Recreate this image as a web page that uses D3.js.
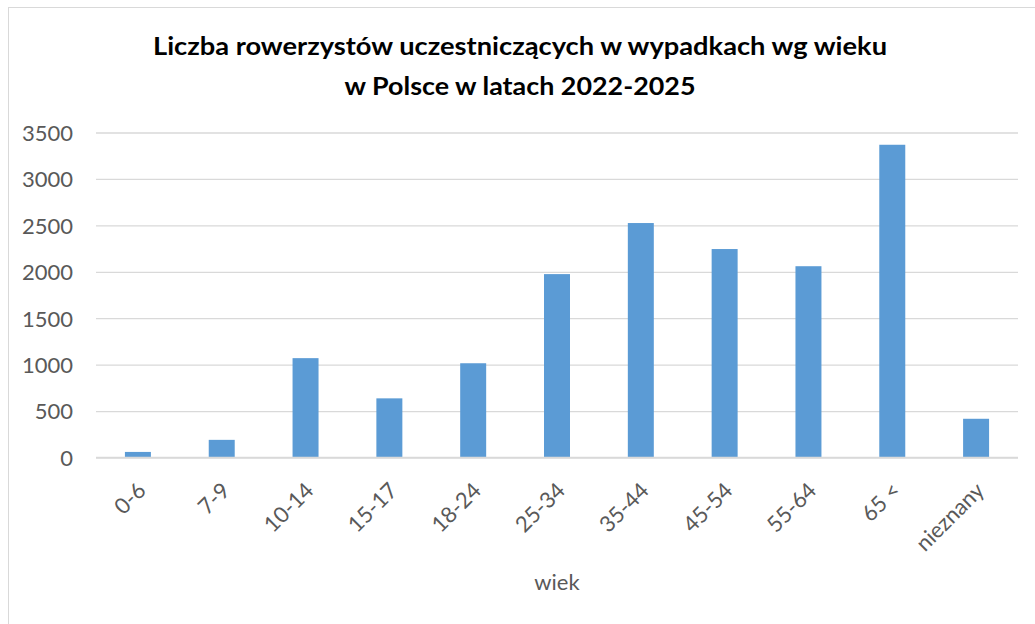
<!DOCTYPE html>
<html>
<head>
<meta charset="utf-8">
<script src="https://cdn.jsdelivr.net/npm/d3@7"></script>
<style>
  html, body { margin: 0; padding: 0; background: #fff; }
  svg { display: block; }
  text { font-family: Lato, "Open Sans", sans-serif; }
</style>
</head>
<body>
<svg id="chart" width="1035" height="624"></svg>
<script>
const titleLines = ["Liczba rowerzystów uczestniczących w wypadkach wg wieku", "w Polsce w latach 2022-2025"];
const categories = ["0-6", "7-9", "10-14", "15-17", "18-24", "25-34", "35-44", "45-54", "55-64", "65 <", "nieznany"];
const values = [60, 190, 1070, 637, 1015, 1975, 2525, 2245, 2060, 3368, 417];
const yTicks = [0, 500, 1000, 1500, 2000, 2500, 3000, 3500];
const xAxisTitle = "wiek";

const svg = d3.select("#chart");
const W = 1035, H = 624;
const plot = { left: 96, right: 1018, top: 132.5, bottom: 457.5 };

svg.append("rect").attr("width", W).attr("height", H).attr("fill", "#fff");
svg.append("rect")
  .attr("x", 8.5).attr("y", 7.5).attr("width", 1040).attr("height", 640)
  .attr("fill", "#fff").attr("stroke", "#D9D9D9").attr("stroke-width", 1);

const x = d3.scaleBand().domain(categories).range([plot.left, plot.right]).padding(0);
const y = d3.scaleLinear().domain([0, 3500]).range([plot.bottom, plot.top]);

// gridlines + y labels
const yAxis = d3.axisLeft(y).tickValues(yTicks).tickSize(-(plot.right - plot.left)).tickPadding(23).tickFormat(d3.format("d"));
const gy = svg.append("g").attr("transform", `translate(${plot.left},0)`).call(yAxis);
gy.select(".domain").remove();
gy.selectAll(".tick line").attr("stroke", "#D9D9D9").attr("stroke-width", 1.3);
gy.selectAll(".tick text").attr("fill", "#595959").attr("font-size", 22).attr("dy", "0.36em");

// bars
const barW = x.bandwidth() * 0.31;
svg.append("g").selectAll("rect").data(categories).join("rect")
  .attr("x", (d) => x(d) + x.bandwidth() / 2 - barW / 2)
  .attr("width", barW)
  .attr("y", (d, i) => y(values[i]))
  .attr("height", (d, i) => y(0) - y(values[i]))
  .attr("fill", "#5B9BD5");

// x axis line
svg.append("line")
  .attr("x1", plot.left).attr("x2", plot.right)
  .attr("y1", y(0)).attr("y2", y(0))
  .attr("stroke", "#D9D9D9").attr("stroke-width", 1.5);

// x labels
const xAxis = d3.axisBottom(x).tickSize(0).tickPadding(0);
const gx = svg.append("g").attr("transform", `translate(0,${plot.bottom})`).call(xAxis);
gx.select(".domain").remove();
gx.selectAll(".tick text")
  .attr("fill", "#595959").attr("font-size", 22)
  .attr("text-anchor", "end")
  .attr("dy", "0.35em").attr("y", 0)
  .attr("transform", "translate(4,29) rotate(-45)");

// x axis title
svg.append("text")
  .attr("x", (plot.left + plot.right) / 2).attr("y", 590)
  .attr("text-anchor", "middle").attr("fill", "#595959").attr("font-size", 22)
  .text(xAxisTitle);

// title
const titleWidths = [734, 351];
const titleY = [55, 95];
titleLines.forEach((t, i) => {
  svg.append("text")
    .attr("x", 520).attr("y", titleY[i])
    .attr("text-anchor", "middle")
    .attr("font-size", 24).attr("font-weight", "bold").attr("fill", "#000")
    .attr("textLength", titleWidths[i]).attr("lengthAdjust", "spacingAndGlyphs")
    .text(t);
});
</script>
</body>
</html>
